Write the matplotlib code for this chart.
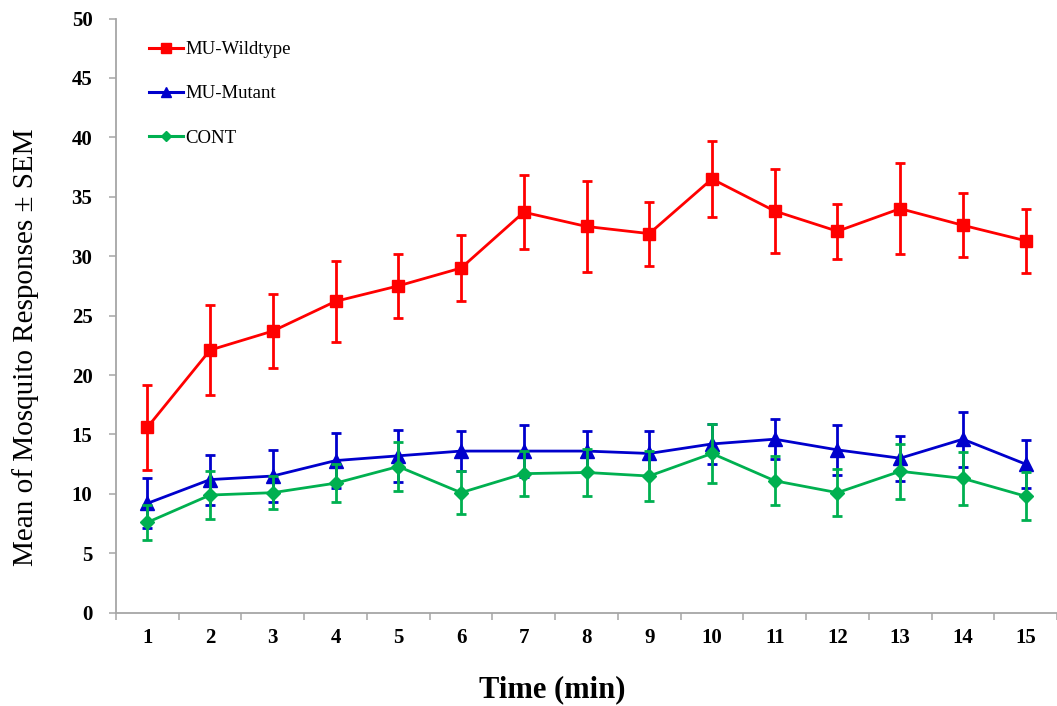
import matplotlib
matplotlib.use("Agg")
import matplotlib.pyplot as plt
from matplotlib.lines import Line2D
import numpy as np

plt.rcParams['font.family'] = ['Liberation Serif', 'DejaVu Serif']

time_min = list(range(1, 16))
tick_labels = [str(t) for t in time_min]

wild_mean = [15.6, 22.1, 23.7, 26.2, 27.5, 29.0, 33.7, 32.5, 31.9, 36.5, 33.8, 32.1, 34.0, 32.6, 31.3]
wild_sem  = [3.6, 3.8, 3.1, 3.4, 2.7, 2.8, 3.1, 3.8, 2.7, 3.2, 3.5, 2.3, 3.8, 2.7, 2.7]

mut_mean = [9.2, 11.2, 11.5, 12.8, 13.2, 13.6, 13.6, 13.6, 13.4, 14.2, 14.6, 13.7, 13.0, 14.6, 12.5]
mut_sem  = [2.1, 2.1, 2.2, 2.3, 2.2, 1.7, 2.2, 1.7, 1.9, 1.7, 1.7, 2.1, 1.9, 2.3, 2.0]

cont_mean = [7.6, 9.9, 10.1, 10.9, 12.3, 10.1, 11.7, 11.8, 11.5, 13.4, 11.1, 10.1, 11.9, 11.3, 9.8]
cont_sem  = [1.5, 2.0, 1.4, 1.6, 2.1, 1.8, 1.9, 2.0, 2.1, 2.5, 2.05, 2.0, 2.3, 2.2, 2.0]

labels = ['MU-Wildtype', 'MU-Mutant', 'CONT']

W, H = 1057, 706
fig = plt.figure(figsize=(W / 100, H / 100), dpi=100)
ax = fig.add_axes([116 / W, (H - 612.7) / H, (W - 116) / W, (612.7 - 18.5) / H])

red = '#ff0000'
blue = '#0000cc'
green = '#00b050'

common = dict(linewidth=2.0, elinewidth=2.0, capsize=3.5, capthick=2.0)
ax.errorbar(time_min, wild_mean, yerr=wild_sem, color=red, marker='s', markersize=8.5,
            zorder=3, **common)
ax.errorbar(time_min, mut_mean, yerr=mut_sem, color=blue, marker='^', markersize=10,
            zorder=4, **common)
ax.errorbar(time_min, cont_mean, yerr=cont_sem, color=green, marker='D', markersize=7.5,
            zorder=5, **common)

ax.set_ylim(0, 50)
ax.set_xlim(0.5, 0.5 + (W - 116) / 63.2)
ax.set_yticks(np.arange(0, 51, 5))
ax.set_yticklabels([str(v) for v in range(0, 51, 5)], fontsize=15, fontweight='bold')

ax.set_xticks(np.arange(0.5, 16, 1.0))
ax.set_xticklabels([])
ax.set_xticks(time_min, minor=True)
ax.set_xticklabels(tick_labels, minor=True, fontsize=15, fontweight='bold')
ax.tick_params(axis='x', which='minor', length=0, pad=11)
ax.tick_params(axis='x', which='major', length=5, width=1.1, color='#a6a6a6', direction='out')
ax.tick_params(axis='y', length=5, width=1.1, color='#a6a6a6', direction='out', pad=12)

for s in ['top', 'right']:
    ax.spines[s].set_visible(False)
for s in ['left', 'bottom']:
    ax.spines[s].set_color('#a6a6a6')
    ax.spines[s].set_linewidth(1.3)

fig.text(26 / W, 1 - 347 / H, 'Mean of Mosquito Responses \u00b1 SEM', rotation=90,
         ha='center', va='center', fontsize=21)
fig.text(552 / W, 1 - 690 / H, 'Time (min)', ha='center', va='center',
         fontsize=22, fontweight='bold')

handles = [
    Line2D([], [], color=red, marker='s', markersize=7, linewidth=2.2),
    Line2D([], [], color=blue, marker='^', markersize=7.5, linewidth=2.2),
    Line2D([], [], color=green, marker='D', markersize=5, linewidth=2.2),
]
leg = ax.legend(handles, labels, loc='upper left', bbox_to_anchor=(149 / W, 1 - 41 / H),
                bbox_transform=fig.transFigure, frameon=False, fontsize=13.5,
                handlelength=1.8, handletextpad=0.15, labelspacing=1.45,
                borderpad=0, borderaxespad=0)

fig.savefig('out.png', dpi=100)
